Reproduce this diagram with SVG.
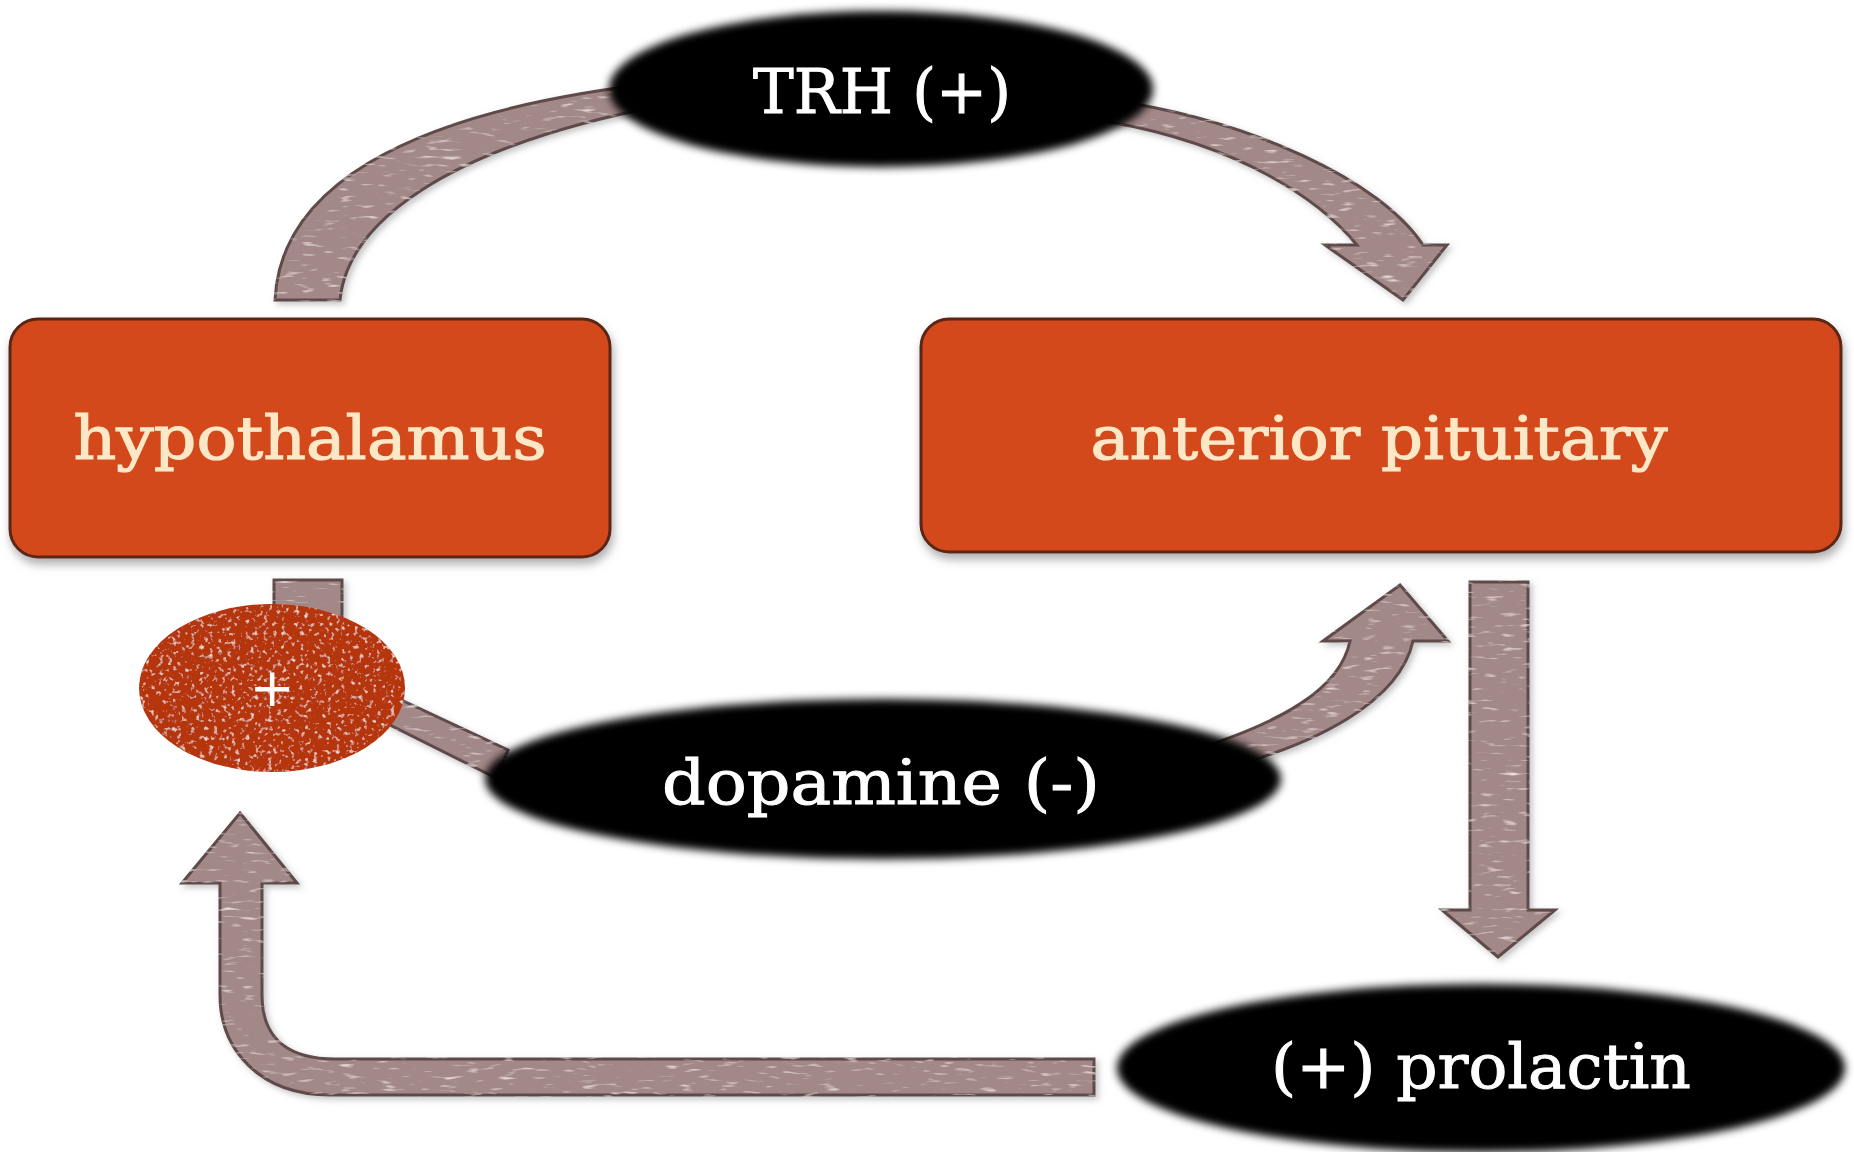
<svg xmlns="http://www.w3.org/2000/svg" width="1854" height="1152" viewBox="0 0 1854 1152">
<defs>
<style>
.box{fill:#d4481b;stroke:#5b2512;stroke-width:3}
.boxtxt{font-family:"DejaVu Serif","Liberation Serif",serif;font-size:60px;fill:#fce8c6;stroke:#fce8c6;stroke-width:1.2;text-anchor:middle}
.ovaltxt{font-family:"DejaVu Serif","Liberation Serif",serif;font-size:62px;fill:#ffffff;stroke:#ffffff;stroke-width:1;text-anchor:middle}
.arrow{fill:#a38888;stroke:#5e4a4a;stroke-width:3;stroke-linejoin:miter}
.oval{fill:#000000}
</style>
<filter id="shadow" x="-10%" y="-10%" width="120%" height="130%">
<feDropShadow dx="2" dy="6" stdDeviation="5" flood-color="#7a7a7a" flood-opacity="0.6"/>
</filter>
<filter id="soft" x="-10%" y="-20%" width="120%" height="140%">
<feGaussianBlur stdDeviation="4"/>
</filter>
<filter id="speckle" x="-5%" y="-5%" width="110%" height="110%">
<feTurbulence type="fractalNoise" baseFrequency="0.22" numOctaves="2" seed="4" result="n"/>
<feColorMatrix in="n" type="matrix" values="0 0 0 0 1  0 0 0 0 0.8  0 0 0 0 0.7  3.2 0 0 0 -1.85" result="s"/>
<feComposite in="s" in2="SourceGraphic" operator="in" result="s2"/>
<feMerge><feMergeNode in="SourceGraphic"/><feMergeNode in="s2"/></feMerge>
</filter>
<filter id="speckleShadow" x="-10%" y="-10%" width="120%" height="120%">
<feTurbulence type="fractalNoise" baseFrequency="0.05 0.25" numOctaves="2" seed="7" result="n"/>
<feColorMatrix in="n" type="matrix" values="0 0 0 0 1  0 0 0 0 0.9  0 0 0 0 0.88  2.6 0 0 0 -1.6" result="s"/>
<feComposite in="s" in2="SourceGraphic" operator="in" result="s2"/>
<feDropShadow in="SourceGraphic" dx="3" dy="3" stdDeviation="3" flood-color="#888888" flood-opacity="0.5" result="sh"/>
<feMerge><feMergeNode in="sh"/><feMergeNode in="s2"/></feMerge>
</filter>
</defs>
<rect width="1854" height="1152" fill="#ffffff"/>

<g id="connectors" filter="url(#speckleShadow)">
<path class="arrow" d="M 275 300 C 280 190 400 115 640 85 L 640 110 C 450 150 348 220 340 300 Z"/>
<path class="arrow" d="M 1110 100 C 1250 120 1380 180 1423 245 L 1447 245 L 1403 300 L 1325 245 L 1357 245 C 1320 200 1240 145 1110 122 Z"/>
<rect class="arrow" x="274" y="580" width="68" height="50"/>
<path class="arrow" d="M 380 690 L 508 750 L 496 778 L 372 716 Z"/>
<path class="arrow" d="M 1200 748 C 1280 722 1340 690 1350 641 L 1323 641 L 1400 585 L 1448 641 L 1413 641 C 1400 700 1320 745 1210 772 Z"/>
<path class="arrow" d="M 1470 582 L 1528 582 L 1528 910 L 1555 910 L 1498 957 L 1442 910 L 1470 910 Z"/>
<path class="arrow" d="M 240 813 L 297 883 L 262 883 L 262 995 C 262 1040 290 1059 335 1059 L 1094 1059 L 1094 1095 L 330 1095 C 260 1095 220 1050 220 995 L 220 883 L 182 883 Z"/>
</g>

<g id="hypothalamus">
<rect class="box" x="10" y="319" width="600" height="238" rx="28" filter="url(#shadow)"/>
<text class="boxtxt" x="310" y="459" textLength="473" lengthAdjust="spacingAndGlyphs">hypothalamus</text>
</g>

<g id="anterior-pituitary">
<rect class="box" x="921" y="319" width="920" height="233" rx="28" filter="url(#shadow)"/>
<text class="boxtxt" x="1379" y="459" textLength="577" lengthAdjust="spacingAndGlyphs">anterior pituitary</text>
</g>

<g id="trh">
<ellipse class="oval" cx="881" cy="89" rx="272" ry="78" filter="url(#soft)"/>
<text class="ovaltxt" x="882" y="113" textLength="258" lengthAdjust="spacingAndGlyphs">TRH (+)</text>
</g>

<g id="plus-node">
<ellipse cx="272" cy="688" rx="133" ry="84" fill="#b5360e" filter="url(#speckle)"/>
<text x="272" y="706" font-family="DejaVu Sans, sans-serif" font-size="54" fill="#ffffff" text-anchor="middle">+</text>
</g>

<g id="dopamine">
<ellipse class="oval" cx="883" cy="779" rx="398" ry="80" filter="url(#soft)"/>
<text class="ovaltxt" x="881" y="804" textLength="438" lengthAdjust="spacingAndGlyphs">dopamine (-)</text>
</g>

<g id="prolactin">
<ellipse class="oval" cx="1481" cy="1068" rx="364" ry="84" filter="url(#soft)"/>
<text class="ovaltxt" x="1481" y="1088" textLength="420" lengthAdjust="spacingAndGlyphs">(+) prolactin</text>
</g>
</svg>
